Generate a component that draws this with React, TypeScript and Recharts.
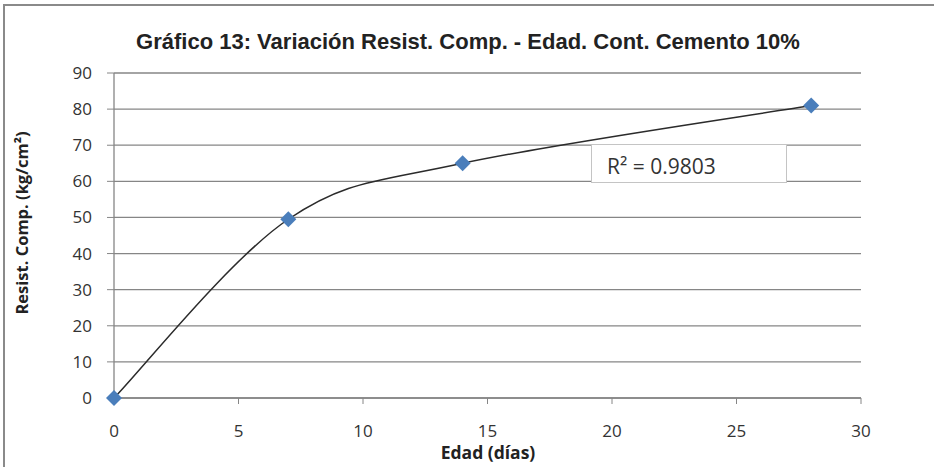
import {
  LineChart,
  Line,
  XAxis,
  YAxis,
  CartesianGrid,
} from "recharts";

const edad = [0, 7, 14, 28];
const resistencia = [0, 49.5, 65, 81];
const xTicks = [0, 5, 10, 15, 20, 25, 30];
const yTicks = [0, 10, 20, 30, 40, 50, 60, 70, 80, 90];
const r2Label = "R² = 0.9803";

const data = edad.map((x, i) => ({ edad: x, valor: resistencia[i] }));

const axisColor = "#868686";
const tickFont = { fontFamily: "Open Sans", fontSize: 17, fill: "#333" };

// smooth curve like the spreadsheet's "smoothed line" (Catmull-Rom, 1/6 tension)
const smoothCurve = (context: any) => {
  let pts: number[][] = [];
  return {
    areaStart() {},
    areaEnd() {},
    lineStart() {
      pts = [];
    },
    point(x: number, y: number) {
      pts.push([+x, +y]);
    },
    lineEnd() {
      const n = pts.length;
      if (!n) return;
      context.moveTo(pts[0][0], pts[0][1]);
      for (let i = 0; i < n - 1; i++) {
        const p0 = pts[Math.max(i - 1, 0)];
        const p1 = pts[i];
        const p2 = pts[i + 1];
        const p3 = pts[Math.min(i + 2, n - 1)];
        context.bezierCurveTo(
          p1[0] + (p2[0] - p0[0]) / 6,
          p1[1] + (p2[1] - p0[1]) / 6,
          p2[0] - (p3[0] - p1[0]) / 6,
          p2[1] - (p3[1] - p1[1]) / 6,
          p2[0],
          p2[1]
        );
      }
    },
  };
};

const Diamond = (props: any) => {
  const { cx, cy } = props;
  if (cx == null || cy == null) return null;
  const s = 8;
  return (
    <path
      d={`M${cx},${cy - s}L${cx + s},${cy}L${cx},${cy + s}L${cx - s},${cy}Z`}
      fill="#4a7ebb"
    />
  );
};

export default function App() {
  return (
    <div
      style={{
        position: "absolute",
        left: 0,
        top: 0,
        width: 934,
        height: 467,
        background: "#fff",
        overflow: "hidden",
      }}
    >
      {/* chart frame */}
      <div
        style={{
          position: "absolute",
          left: 3,
          top: 4,
          width: 940,
          height: 470,
          borderLeft: "2px solid #8a8a8a",
          borderTop: "2px solid #8a8a8a",
        }}
      />
      <LineChart
        width={934}
        height={467}
        data={data}
        margin={{ top: 73, right: 73, left: 14, bottom: 29 }}
        style={{ position: "absolute", left: 0, top: 0 }}
      >
        <CartesianGrid vertical={false} stroke={axisColor} strokeWidth={1.3} />
        <XAxis
          dataKey="edad"
          type="number"
          domain={[0, 30]}
          ticks={xTicks}
          height={40}
          stroke={axisColor}
          tickSize={6}
          tickMargin={21}
          tick={tickFont}
          axisLine={{ stroke: axisColor, strokeWidth: 1.3 }}
          tickLine={{ stroke: axisColor }}
        />
        <YAxis
          type="number"
          domain={[0, 90]}
          ticks={yTicks}
          width={100}
          tickSize={7}
          tickMargin={15}
          tick={tickFont}
          axisLine={{ stroke: axisColor, strokeWidth: 1.3 }}
          tickLine={{ stroke: axisColor }}
        />
        <Line
          type={smoothCurve as any}
          dataKey="valor"
          stroke="#2b2b2b"
          strokeWidth={1.5}
          dot={<Diamond />}
          activeDot={false}
          isAnimationActive={false}
        />
      </LineChart>
      <div
        style={{
          position: "absolute",
          left: 0,
          top: 31,
          width: 936,
          textAlign: "center",
          fontFamily: "Liberation Sans",
          fontWeight: "bold",
          fontSize: 22,
          lineHeight: "22px",
          color: "#222",
        }}
      >
        Gráfico 13: Variación Resist. Comp. - Edad. Cont. Cemento 10%
      </div>
      <div
        style={{
          position: "absolute",
          left: 591,
          top: 144,
          width: 196,
          height: 39,
          background: "#fff",
          border: "1px solid #c4c4c4",
          boxSizing: "border-box",
          fontFamily: "Open Sans",
          fontSize: 21,
          color: "#333",
          lineHeight: "42px",
          paddingLeft: 15,
          overflow: "hidden",
        }}
      >
        {r2Label}
      </div>
      <div
        style={{
          position: "absolute",
          left: 388,
          top: 443,
          width: 200,
          textAlign: "center",
          fontFamily: "Open Sans",
          fontWeight: "bold",
          fontSize: 17.5,
          lineHeight: "18px",
          color: "#222",
        }}
      >
        Edad (días)
      </div>
      <div
        style={{
          position: "absolute",
          left: 21,
          top: 223,
          width: 300,
          transform: "translate(-50%, -50%) rotate(-90deg)",
          textAlign: "center",
          fontFamily: "Open Sans",
          fontWeight: "bold",
          fontSize: 16.5,
          color: "#222",
          whiteSpace: "nowrap",
        }}
      >
        Resist. Comp. (kg/cm²)
      </div>
    </div>
  );
}
